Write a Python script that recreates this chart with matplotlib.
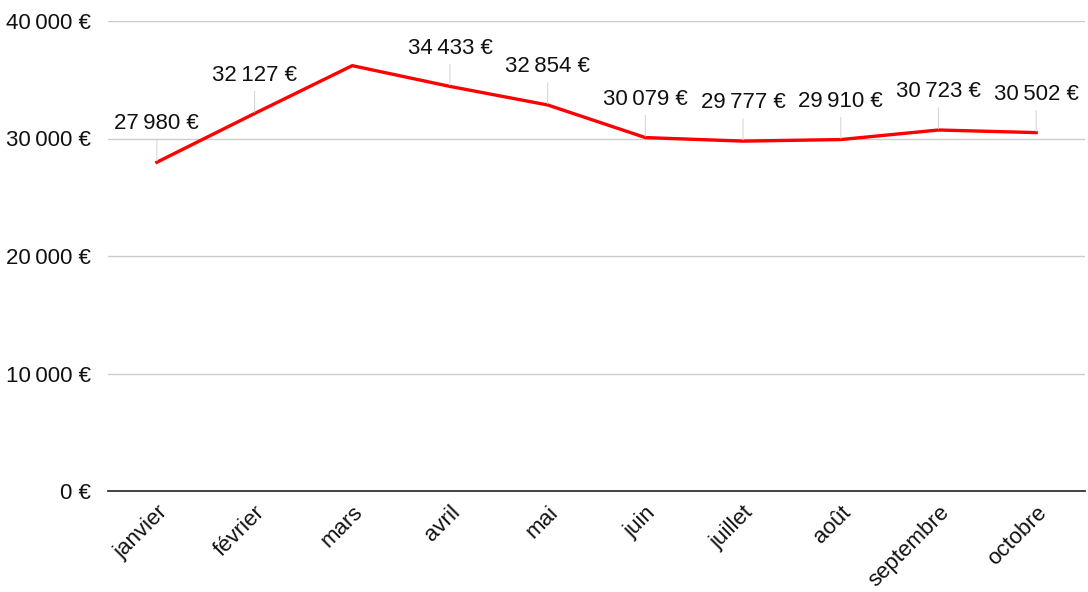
import matplotlib
matplotlib.use("Agg")
import matplotlib.pyplot as plt
from matplotlib.ticker import FuncFormatter

plt.rcParams['font.family'] = ['Liberation Sans', 'DejaVu Sans']

months = ["janvier", "février", "mars", "avril", "mai", "juin", "juillet",
          "août", "septembre", "octobre"]
values = [27980, 32127, 36200, 34433, 32854, 30079, 29777, 29910, 30723, 30502]
labeled = [True, True, False, True, True, True, True, True, True, True]
yticks = [0, 10000, 20000, 30000, 40000]


def fmt_eur(v):
    s = f"{int(round(v)):,}".replace(",", "\u202f")
    return s + "\u00a0€"


fig = plt.figure(figsize=(10.88, 5.92), dpi=100)
ax = fig.add_axes([108 / 1088, 1 - 491 / 592, 977 / 1088, 470 / 592])

x = list(range(len(months)))
ax.plot(x, values, color="#ff0000", lw=2.4, solid_joinstyle="round", zorder=3)

for xi, v, lab in zip(x, values, labeled):
    if not lab:
        continue
    ax.annotate(fmt_eur(v), xy=(xi, v), xytext=(0, 20), textcoords="offset points",
                ha="center", va="bottom", fontsize=16, color="#111111",
                arrowprops=dict(arrowstyle="-", color="#d8d8d8", lw=0.8,
                                shrinkA=2, shrinkB=1))

ax.set_xlim(-0.5, len(months) - 0.5)
ax.set_ylim(0, 40000)
ax.set_yticks(yticks)
ax.yaxis.set_major_formatter(FuncFormatter(lambda v, p: fmt_eur(v)))
ax.set_xticks(x)
ax.set_xticklabels(months, rotation=45, ha="right", rotation_mode="anchor")

ax.tick_params(axis="both", length=0, labelsize=16, colors="#111111")
ax.tick_params(axis="y", pad=12)
ax.tick_params(axis="x", pad=8)

ax.grid(axis="y", color="#cccccc", lw=1)
ax.set_axisbelow(True)
for s in ["top", "right", "left"]:
    ax.spines[s].set_visible(False)
ax.spines["bottom"].set_color("#333333")
ax.spines["bottom"].set_linewidth(1.3)
ax.spines["bottom"].set_zorder(4)

fig.savefig("out.png", dpi=100)
